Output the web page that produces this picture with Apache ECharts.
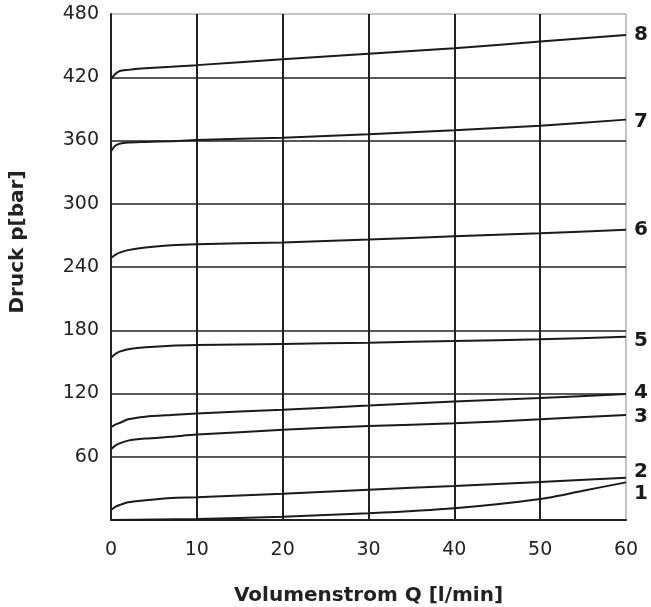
<!DOCTYPE html>
<html>
<head>
<meta charset="utf-8">
<script src="https://cdn.jsdelivr.net/npm/echarts@6/dist/echarts.min.js"></script>
<style>
  html, body { margin: 0; padding: 0; background: #fff; }
  #chart { width: 651px; height: 607px; }
</style>
</head>
<body>
<div id="chart"></div>
<script>
// Volumenstrom Q [l/min] sample points
const flow = [0, 0.5, 1, 2, 4, 7, 10, 20, 30, 40, 50, 60];
const flowCurve1 = [0, 10, 20, 30, 40, 50, 55, 60];

// Druck p [bar] per curve
const p8 = [418, 423, 426, 427, 428.5, 430, 431.5, 437, 442.4, 447.5, 453.8, 460];
const p7 = [350, 355, 357, 358, 358.6, 359.4, 360.5, 362.7, 365.9, 369.7, 374, 379.8];
const p6 = [248.6, 251.5, 253.6, 256, 258.4, 260.6, 261.6, 263.3, 266, 269.2, 272, 275.4];
const p5 = [154, 157.5, 159.7, 162, 163.8, 165.4, 166, 167, 168.2, 169.8, 171.4, 173.9];
const p4 = [88, 90.5, 92, 95.5, 98, 99.6, 101, 104.7, 108.5, 112.3, 115.7, 119.5];
const p3 = [67, 70.5, 72.7, 75.3, 77.2, 79, 81, 85.5, 89.2, 91.7, 95.5, 99.6];
const p2 = [9.5, 12.5, 14.2, 16.8, 18.7, 20.9, 21.5, 25, 28.8, 32.3, 36, 40.1];
const p1 = [0, 1, 3.2, 6.3, 11.1, 19.9, 27.8, 35.7];

const curveNames = ["1", "2", "3", "4", "5", "6", "7", "8"];
// small vertical nudges of the end labels so they don't collide
const labelNudge = [11, -6, 2, -1, 4, 0, 2, 0];

const font = "DejaVu Sans";
const chart = echarts.init(document.getElementById("chart"));

const curves = [
  { x: flowCurve1, y: p1 },
  { x: flow, y: p2 },
  { x: flow, y: p3 },
  { x: flow, y: p4 },
  { x: flow, y: p5 },
  { x: flow, y: p6 },
  { x: flow, y: p7 },
  { x: flow, y: p8 },
];

const series = curves.map(function (c, i) {
  return {
    name: curveNames[i],
    type: "line",
    smooth: 0.25,
    showSymbol: false,
    lineStyle: { color: "#1a1a1a", width: 2 },
    endLabel: {
      show: true,
      formatter: "{a}",
      distance: 8,
      offset: [0, labelNudge[i]],
      color: "#1a1a1a",
      fontFamily: font,
      fontWeight: "bold",
      fontSize: 20,
    },
    data: c.x.map(function (q, k) {
      return [q, c.y[k]];
    }),
  };
});

chart.setOption({
  backgroundColor: "#fff",
  animation: false,
  grid: {
    left: 111,
    right: 25,
    top: 14,
    bottom: 87,
    outerBoundsMode: "none",
    show: true,
    borderColor: "#8a8a8a",
    borderWidth: 1,
  },
  xAxis: {
    type: "value",
    min: 0,
    max: 60,
    interval: 10,
    axisLine: { show: true, lineStyle: { color: "#222", width: 2 } },
    axisTick: { show: false },
    axisLabel: { color: "#222", fontFamily: font, fontSize: 19, margin: 21 },
    splitLine: {
      show: true,
      showMinLine: false,
      showMaxLine: false,
      lineStyle: { color: "#222", width: 2 },
    },
    name: "Volumenstrom Q [l/min]",
    nameLocation: "middle",
    nameGap: 66,
    nameTextStyle: { color: "#222", fontFamily: font, fontWeight: "bold", fontSize: 20 },
  },
  yAxis: {
    type: "value",
    min: 0,
    max: 480,
    interval: 60,
    axisLine: { show: true, lineStyle: { color: "#222", width: 2 } },
    axisTick: { show: false },
    axisLabel: { color: "#222", fontFamily: font, fontSize: 19, margin: 12, showMinLabel: false },
    splitLine: {
      show: true,
      showMinLine: false,
      showMaxLine: false,
      lineStyle: { color: "#222", width: 1.5 },
    },
  },
  graphic: [
    {
      type: "text",
      x: 18,
      y: 242,
      rotation: Math.PI / 2,
      style: {
        text: "Druck p[bar]",
        fill: "#222",
        font: "bold 20px 'DejaVu Sans'",
        align: "center",
        verticalAlign: "middle",
      },
    },
  ],
  series: series,
});
</script>
</body>
</html>
